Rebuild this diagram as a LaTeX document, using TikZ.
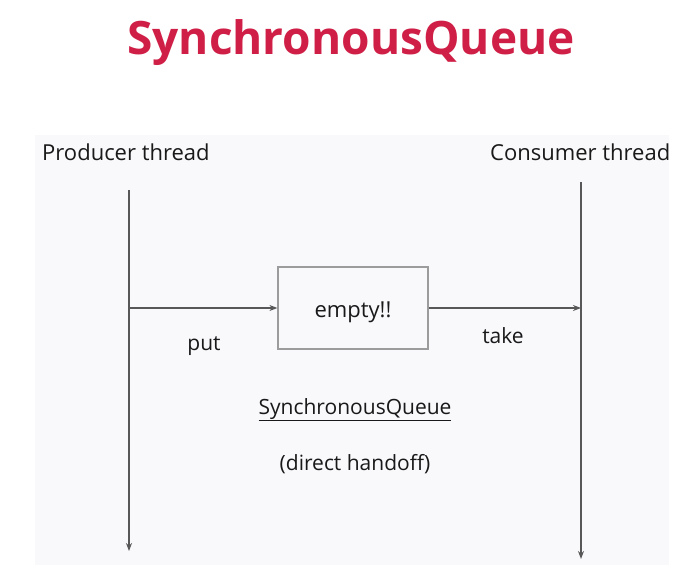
\documentclass[tikz,border=0pt]{standalone}
\usepackage{fontspec}
\setmainfont{Open Sans}
\usetikzlibrary{arrows.meta, positioning}
\definecolor{titlered}{HTML}{D01F47}
\definecolor{panelbg}{HTML}{F9F8FB}
\definecolor{linegray}{HTML}{585858}
\definecolor{boxgray}{HTML}{9C9C9C}
\tikzstyle{heading}  = [font=\bfseries\fontsize{46}{50}\selectfont, text=titlered, inner sep=0pt]
\tikzstyle{thread}   = [font=\fontsize{22}{26}\selectfont, text=black!90, inner sep=0pt]
\tikzstyle{msg}      = [font=\fontsize{21}{25}\selectfont, text=black!90, inner sep=0pt]
\tikzstyle{queuebox} = [rectangle, draw=boxgray, line width=1.2pt, fill=panelbg,
                        minimum width=150pt, minimum height=82pt]
\tikzstyle{arrow}    = [linegray, line width=1.3pt, -{Stealth[length=8pt, width=6pt]}]

\begin{document}
\begin{tikzpicture}[x=1pt, y=-1pt]

  % --- page and panel ---
  \useasboundingbox[fill=white] (0,0) rectangle (688,569);
  \fill[panelbg] (35,135) rectangle (669,565);

  % --- title ---
  \node (title) [heading, anchor=base] at (351,55) {SynchronousQueue};

  % --- threads ---
  \node (prod) [thread, anchor=base west] at (42,161) {Producer thread};
  \node (cons) [thread, anchor=base west] at (490,161) {Consumer thread};
  \coordinate (p_top) at (129,190);
  \coordinate (p_put) at (129,308);
  \coordinate (p_bot) at (129,551);
  \coordinate (c_top) at (581,182);
  \coordinate (c_take) at (581,308);
  \coordinate (c_bot) at (581,559);

  % --- queue ---
  \node (queue) [queuebox] at (353,308) {};
  \node (q_txt) [msg, anchor=base, font=\fontsize{22}{26}\selectfont] at (353,317) {empty!!};
  \node (put)  [msg, anchor=base] at (204,350) {put};
  \node (take) [msg, anchor=base] at (503,343) {take};
  \node (sq_lbl)  [msg, anchor=base] at (355,414) {\underline{SynchronousQueue}};
  \node (handoff) [msg, anchor=base] at (355,470) {(direct handoff)};

  % Arrows
  \draw[arrow] (p_top) -- (p_bot);
  \draw[arrow] (c_top) -- (c_bot);
  \draw[arrow] (p_put) -- (queue.west);
  \draw[arrow] (queue.east) -- (c_take);

\end{tikzpicture}
\end{document}
